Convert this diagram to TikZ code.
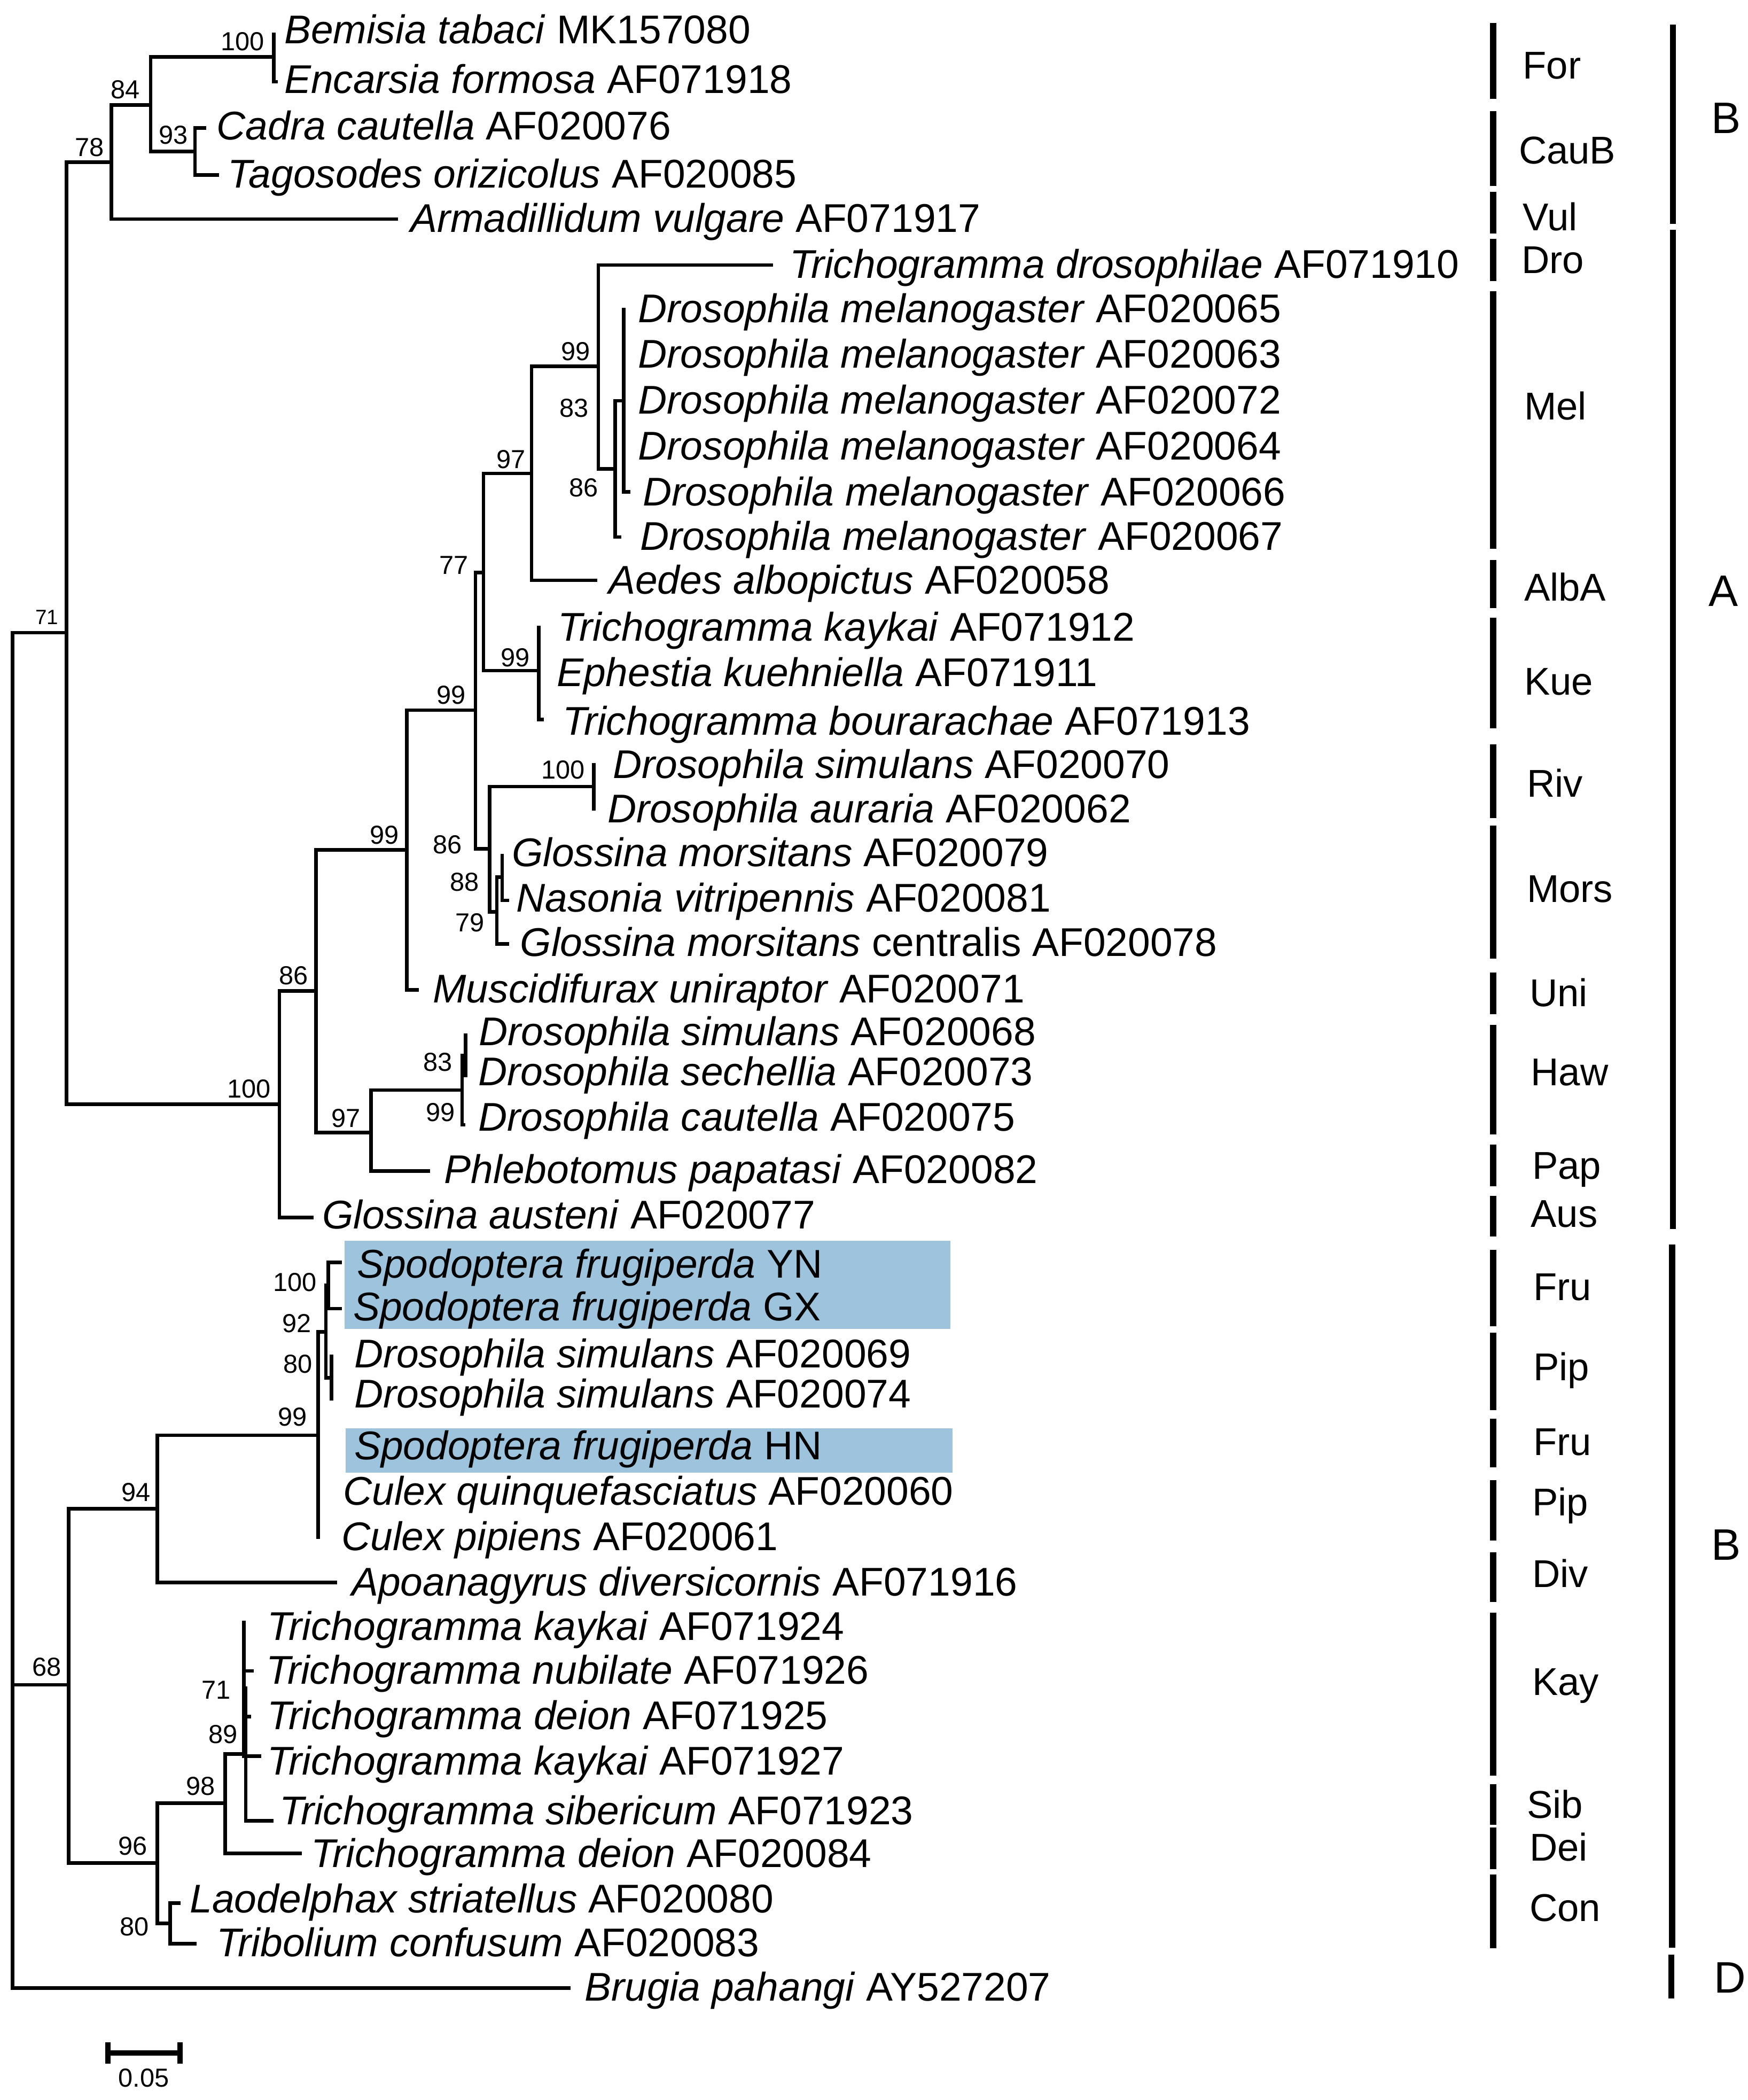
\documentclass[tikz,border=0pt]{standalone}
\usepackage{fontspec}
\setmainfont{Liberation Sans}
\definecolor{hl}{RGB}{157,195,221}
\begin{document}
\begin{tikzpicture}[x=1pt,y=-1pt,
  branch/.style={line width=2.7pt, line cap=butt, line join=miter},
  leaf/.style={anchor=west, inner sep=0pt, font=\fontsize{30}{32}\selectfont, text height=21.5pt, text depth=0pt},
  boot/.style={anchor=south east, inner sep=0pt, font=\fontsize{19.5}{20}\selectfont, text height=14pt, text depth=0pt},
  bootsmall/.style={boot, font=\fontsize{15.5}{16}\selectfont, text height=11.1pt},
  clade/.style={anchor=west, inner sep=0pt, font=\fontsize{29}{30}\selectfont, text height=20.8pt, text depth=0pt},
  group/.style={anchor=west, inner sep=0pt, font=\fontsize{33}{34}\selectfont, text height=23.6pt, text depth=0pt},
  cbar/.style={line width=5pt},
  gbar/.style={line width=4.5pt},
  scalebar/.style={line width=3.8pt},
]
\useasboundingbox (0,0) rectangle (1308.8,1572);

% highlight boxes
\fill[hl] (258,928.6) rectangle (711.7,994.9);
\fill[hl] (258.7,1069) rectangle (713,1102.3);

% internal nodes
\coordinate (R) at (9.3,980);
\coordinate (n71) at (49.7,473.6);
\coordinate (n78) at (83.3,121.3);
\coordinate (n84) at (112.8,78.6);
\coordinate (n100a) at (205,42.7);
\coordinate (n93) at (146,113.3);
\coordinate (n100b) at (209.2,826.6);
\coordinate (n86a) at (236.5,741.8);
\coordinate (n99c) at (304.7,636.3);
\coordinate (n99b) at (356,531.6);
\coordinate (n77) at (362,428.5);
\coordinate (n97a) at (398,354.4);
\coordinate (n99m) at (448,274.3);
\coordinate (n86m) at (460.7,351);
\coordinate (n83m) at (467,300);
\coordinate (nKue) at (403.3,502);
\coordinate (n86b) at (366.7,635.3);
\coordinate (nRiv) at (444.5,588.8);
\coordinate (n79) at (372,682.5);
\coordinate (n88) at (376,656.7);
\coordinate (n97b) at (277.8,847.7);
\coordinate (n99h) at (346,816);
\coordinate (n83h) at (348.5,790);
\coordinate (n68) at (51.4,1261.2);
\coordinate (n94) at (117.9,1129.4);
\coordinate (n99f) at (238.3,1074.4);
\coordinate (n92) at (244,997);
\coordinate (n100f) at (245.7,962.3);
\coordinate (n80p) at (248.3,1031.3);
\coordinate (n96) at (117.9,1394.6);
\coordinate (n98) at (168.5,1349.7);
\coordinate (n89) at (184,1313);
\coordinate (n71k) at (182.5,1263.7);
\coordinate (n80c) at (127.3,1439.8);

% leaf tips
\coordinate (Bem) at (205,24.2);
\coordinate (Enc) at (208,61.2);
\coordinate (Cad) at (154.5,95.7);
\coordinate (Tag) at (164,130.9);
\coordinate (Arm) at (298,164);
\coordinate (Dro) at (578.7,198.4);
\coordinate (M65) at (467,230.5);
\coordinate (M63) at (467,264.9);
\coordinate (M72) at (467,299.3);
\coordinate (M64) at (467,333.7);
\coordinate (M66) at (472,368.2);
\coordinate (M67) at (465.3,402);
\coordinate (Aed) at (447,434.4);
\coordinate (K12) at (403.3,468.3);
\coordinate (Eph) at (403.3,502);
\coordinate (Bou) at (407.3,538.5);
\coordinate (S70) at (444.5,571);
\coordinate (Aur) at (444.5,606.7);
\coordinate (Gmo) at (376,639.3);
\coordinate (Nas) at (381.3,674);
\coordinate (Cen) at (381,706.6);
\coordinate (Mus) at (313.6,741);
\coordinate (S68) at (348.5,773.7);
\coordinate (Sec) at (348.5,806.3);
\coordinate (Cau) at (348.5,842);
\coordinate (Phl) at (322,876.5);
\coordinate (Gau) at (234.9,911.5);
\coordinate (YN) at (256,945);
\coordinate (GX) at (256,979.6);
\coordinate (S69) at (248.3,1014);
\coordinate (S74) at (248.3,1048.5);
\coordinate (HN) at (238.3,1085);
\coordinate (CuQ) at (238.3,1118.5);
\coordinate (CuP) at (238.3,1151.8);
\coordinate (Apo) at (252.5,1184.7);
\coordinate (K24) at (182.5,1213);
\coordinate (Nub) at (190,1250.8);
\coordinate (D25) at (188,1285);
\coordinate (K27) at (195.7,1314.5);
\coordinate (Sib) at (204.7,1363);
\coordinate (D84) at (226,1387.4);
\coordinate (Lao) at (135.3,1424.7);
\coordinate (Tri) at (147.3,1454.9);
\coordinate (Bru) at (427,1488.2);

% branches
\foreach \p/\c in {R/n71,R/n68,R/Bru,
  n71/n78,n71/n100b,n78/n84,n78/Arm,n84/n100a,n84/n93,n100a/Bem,n100a/Enc,n93/Cad,n93/Tag,
  n100b/n86a,n100b/Gau,n86a/n99c,n86a/n97b,n99c/n99b,n99c/Mus,n99b/n77,n99b/n86b,
  n77/n97a,n77/nKue,n97a/n99m,n97a/Aed,n99m/Dro,n99m/n86m,n86m/n83m,n86m/M67,
  n83m/M65,n83m/M63,n83m/M72,n83m/M64,n83m/M66,
  nKue/K12,nKue/Eph,nKue/Bou,n86b/nRiv,n86b/n79,nRiv/S70,nRiv/Aur,n79/n88,n79/Cen,n88/Gmo,n88/Nas,
  n97b/n99h,n97b/Phl,n99h/n83h,n99h/Cau,n83h/S68,n83h/Sec,
  n68/n94,n68/n96,n94/n99f,n94/Apo,n99f/n92,n99f/HN,n99f/CuQ,n99f/CuP,n92/n100f,n92/n80p,
  n100f/YN,n100f/GX,n80p/S69,n80p/S74,
  n96/n98,n96/n80c,n98/n89,n98/D84,n89/n71k,n89/Sib,n71k/K24,n71k/Nub,n71k/D25,n71k/K27,
  n80c/Lao,n80c/Tri}
  \draw[branch] (\p) |- (\c);

% leaf labels
\node[leaf] (tBem) at (212.6,22) {\textit{Bemisia tabaci} MK157080};
\node[leaf] (tEnc) at (212.6,59) {\textit{Encarsia formosa} AF071918};
\node[leaf] (tCad) at (162,94) {\textit{Cadra cautella} AF020076};
\node[leaf] (tTag) at (170.5,130) {\textit{Tagosodes orizicolus} AF020085};
\node[leaf] (tArm) at (307,163) {\textit{Armadillidum vulgare} AF071917};
\node[leaf] (tDro) at (591,197.5) {\textit{Trichogramma drosophilae} AF071910};
\node[leaf] (tM65) at (477.7,230.5) {\textit{Drosophila melanogaster} AF020065};
\node[leaf] (tM63) at (477.7,264.5) {\textit{Drosophila melanogaster} AF020063};
\node[leaf] (tM72) at (477.7,299) {\textit{Drosophila melanogaster} AF020072};
\node[leaf] (tM64) at (477.7,333.5) {\textit{Drosophila melanogaster} AF020064};
\node[leaf] (tM66) at (481,368) {\textit{Drosophila melanogaster} AF020066};
\node[leaf] (tM67) at (479,401) {\textit{Drosophila melanogaster} AF020067};
\node[leaf] (tAed) at (455.4,434) {\textit{Aedes albopictus} AF020058};
\node[leaf] (tK12) at (417.5,469) {\textit{Trichogramma kaykai} AF071912};
\node[leaf] (tEph) at (416.7,503) {\textit{Ephestia kuehniella} AF071911};
\node[leaf] (tBou) at (421,539.5) {\textit{Trichogramma bourarachae} AF071913};
\node[leaf] (tS70) at (458.8,572) {\textit{Drosophila simulans} AF020070};
\node[leaf] (tAur) at (454.6,605) {\textit{Drosophila auraria} AF020062};
\node[leaf] (tGmo) at (383,638) {\textit{Glossina morsitans} AF020079};
\node[leaf] (tNas) at (386.4,672) {\textit{Nasonia vitripennis} AF020081};
\node[leaf] (tCen) at (389.3,705) {\textit{Glossina morsitans} centralis AF020078};
\node[leaf] (tMus) at (324,740) {\textit{Muscidifurax uniraptor} AF020071};
\node[leaf] (tS68) at (358.5,772) {\textit{Drosophila simulans} AF020068};
\node[leaf] (tSec) at (358,802) {\textit{Drosophila sechellia} AF020073};
\node[leaf] (tCau) at (358,836) {\textit{Drosophila cautella} AF020075};
\node[leaf] (tPhl) at (332.5,875) {\textit{Phlebotomus papatasi} AF020082};
\node[leaf] (tGau) at (241,909) {\textit{Glossina austeni} AF020077};
\node[leaf] (tYN) at (267,946) {\textit{Spodoptera frugiperda} YN};
\node[leaf] (tGX) at (264.3,978) {\textit{Spodoptera frugiperda} GX};
\node[leaf] (tS69) at (265,1013) {\textit{Drosophila simulans} AF020069};
\node[leaf] (tS74) at (265,1043) {\textit{Drosophila simulans} AF020074};
\node[leaf] (tHN) at (265,1082) {\textit{Spodoptera frugiperda} HN};
\node[leaf] (tCuQ) at (256.7,1116) {\textit{Culex quinquefasciatus} AF020060};
\node[leaf] (tCuP) at (255.5,1150) {\textit{Culex pipiens} AF020061};
\node[leaf] (tApo) at (263,1184) {\textit{Apoanagyrus diversicornis} AF071916};
\node[leaf] (tK24) at (200,1217) {\textit{Trichogramma kaykai} AF071924};
\node[leaf] (tNub) at (199,1250) {\textit{Trichogramma nubilate} AF071926};
\node[leaf] (tD25) at (200,1284) {\textit{Trichogramma deion} AF071925};
\node[leaf] (tK27) at (200,1318) {\textit{Trichogramma kaykai} AF071927};
\node[leaf] (tSib) at (209,1355) {\textit{Trichogramma sibericum} AF071923};
\node[leaf] (tD84) at (232.8,1387) {\textit{Trichogramma deion} AF020084};
\node[leaf] (tLao) at (142,1421) {\textit{Laodelphax striatellus} AF020080};
\node[leaf] (tTri) at (162,1454) {\textit{Tribolium confusum} AF020083};
\node[leaf] (tBru) at (437.7,1487) {\textit{Brugia pahangi} AY527207};

% bootstrap values
\node[bootsmall] (bs71r) at (44,467.6) {71};
\foreach \nm/\x/\y/\v in {b1/198/38/100, b2/105/74/84, b3/141/108/93, b4/78/117/78,
  b5/442/270/99, b6/440.7/312.3/83, b7/448/372/86, b8/393.5/350.8/97, b9/351/430/77,
  b10/397/499/99, b11/348.7/527/99, b12/438/583/100, b13/346/639/86, b14/358.7/667/88,
  b15/362.7/697.6/79, b16/299/632/99, b17/231/737/86, b18/203/822/100, b19/339/802/83,
  b20/341/839.5/99, b21/270/844/97, b22/237.3/966.8/100, b23/233.3/997.5/92, b24/234/1028/80,
  b25/230/1067.6/99, b26/112.8/1124/94, b27/46/1254.6/68, b28/173/1272/71, b29/178/1305/89,
  b30/161.3/1344/98, b31/110.3/1388.6/96, b32/111.5/1449/80}
  \node[boot] (\nm) at (\x,\y) {\v};

% clade bars
\foreach \a/\b in {17.3/74, 83/139, 143.6/174.7, 178.6/210.5, 218/410.7, 419/455, 462.5/545,
  557/612.5, 618/717.6, 728/759, 767/849, 856.6/888, 895/925.5, 935.7/992.6, 997.7/1055.6,
  1062/1098.5, 1108/1153, 1162/1199, 1207/1329, 1335.7/1366, 1368/1399, 1403/1458.5}
  \draw[cbar] (1118,\a) -- (1118,\b);

% clade labels
\foreach \nm/\x/\y/\t in {cFor/1140/48.5/For, cCauB/1137/112/CauB, cVul/1140/162/Vul,
  cDro/1139/194/Dro, cMel/1141/303.6/Mel, cAlbA/1141/439.5/AlbA, cKue/1141/509.7/Kue,
  cRiv/1143/586/Riv, cMors/1143/665/Mors, cUni/1145/743/Uni, cHaw/1146/802/Haw,
  cPap/1147/872/Pap, cAus/1146/908/Aus, cFru1/1148/963/Fru, cPip1/1148/1023/Pip,
  cFru2/1148/1079/Fru, cPip2/1147/1124/Pip, cDiv/1147/1177.6/Div, cKay/1147/1258.7/Kay,
  cSib/1143/1350.6/Sib, cDei/1145/1382.6/Dei, cCon/1145/1427.7/Con}
  \node[clade] (\nm) at (\x,\y) {\t};

% group bars
\draw[gbar] (1252.6,18.4) -- (1252.6,167.6);
\draw[gbar] (1252.6,172) -- (1252.6,920);
\draw[gbar] (1252,931.4) -- (1252,1458);
\draw[gbar] (1251.5,1463) -- (1251.5,1496);
\node[group] (gB1) at (1281,88) {B};
\node[group] (gA) at (1279,442) {A};
\node[group] (gB2) at (1281,1156) {B};
\node[group] (gD) at (1283,1480) {D};

% scale bar
\coordinate (sL) at (80.8,1536.8);
\coordinate (sR) at (134.7,1536.8);
\draw[scalebar] (sL) -- (sR);
\draw[scalebar] ([yshift=8pt]sL) -- ([yshift=-8pt]sL);
\draw[scalebar] ([yshift=8pt]sR) -- ([yshift=-8pt]sR);
\node[anchor=center, inner sep=0pt, font=\fontsize{19.5}{20}\selectfont, text height=14pt, text depth=0pt] (sTxt) at (107.7,1555) {0.05};
\end{tikzpicture}
\end{document}
